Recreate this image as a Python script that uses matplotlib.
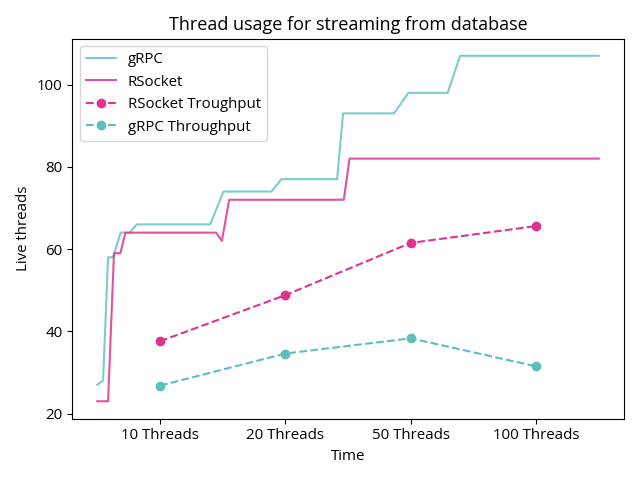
import numpy as np
import matplotlib
matplotlib.use("Agg")
import matplotlib.pyplot as plt

plt.rcParams['font.family'] = ['Open Sans', 'DejaVu Sans']
plt.rcParams['font.size'] = 10.8

# thread usage over time (time in seconds, 0..400 covers the whole run)
grpc_time = [0, 4.6, 8.6, 12.6, 18.6, 25.8, 31.3, 90, 100.7, 138.9, 146.9,
             191.3, 196.1, 236.7, 248.2, 279.5, 289.4, 400]
grpc_threads = [27, 28, 58, 58, 64, 64, 66, 66, 74, 74, 77,
                77, 93, 93, 98, 98, 107, 107]

rsocket_time = [0, 8.6, 13.3, 18.4, 22.4, 94.8, 99.4, 105.2, 196.6, 201.2, 400]
rsocket_threads = [23, 23, 59, 59, 64, 64, 62, 72, 72, 82, 82]

# throughput per load level
levels = ['10 Threads', '20 Threads', '50 Threads', '100 Threads']
rsocket_tp = [37.6, 48.8, 61.5, 65.6]
grpc_tp = [26.8, 34.6, 38.3, 31.5]

pink = '#e0338f'
teal = '#5dbfbd'

# map time range onto the category axis
def to_x(t):
    t = np.asarray(t, dtype=float)
    return -0.5 + t / 400.0 * 4.0

fig, ax = plt.subplots(figsize=(6.4, 4.8), dpi=100)
ax.plot(to_x(grpc_time), grpc_threads, color=teal, alpha=0.8, label='gRPC')
ax.plot(to_x(rsocket_time), rsocket_threads, color=pink, alpha=0.85, label='RSocket')
x = np.arange(len(levels))
ax.plot(x, rsocket_tp, '--o', color=pink, label='RSocket Troughput')
ax.plot(x, grpc_tp, '--o', color=teal, label='gRPC Throughput')

ax.set_xticks(x)
ax.set_xticklabels(levels)
ax.set_xlabel('Time')
ax.set_ylabel('Live threads')
ax.set_title('Thread usage for streaming from database')
ax.legend(loc='upper left')

plt.tight_layout()
plt.savefig('out.png')
